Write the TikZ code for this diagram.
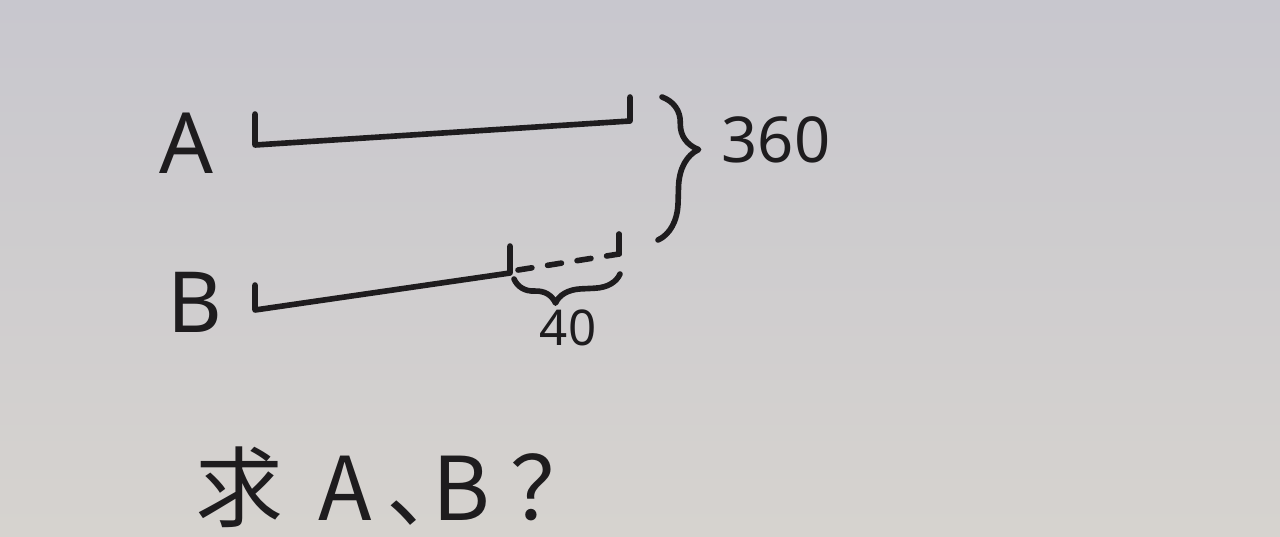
\documentclass[tikz,border=0pt]{standalone}
\usepackage{fontspec}
\setmainfont{Noto Sans}
\newfontfamily\cjk{Noto Sans CJK SC}
\usetikzlibrary{decorations.pathreplacing}
\definecolor{papertop}{RGB}{200,199,206}
\definecolor{paperbot}{RGB}{214,211,207}
\definecolor{ink}{RGB}{30,28,30}
\tikzset{
  seg/.style={ink, line width=1.6pt, line cap=round, line join=round},
  lab/.style={ink, inner sep=0pt, font=\fontsize{#1}{#1}\selectfont},
  brc/.style={seg, decorate, decoration={brace, amplitude=#1}},
}
\begin{document}
\begin{tikzpicture}[x=0.01cm,y=-0.01cm]
\shade[top color=papertop, bottom color=paperbot] (0,0) rectangle (1280,536);
\useasboundingbox (0,0) rectangle (1280,536);

\node[lab=24] (labelA) at (186,143) {A};
\node[lab=24] (labelB) at (195,302) {B};

\coordinate (a0) at (255,114); \coordinate (a1) at (255,145);
\coordinate (a2) at (630,121); \coordinate (a3) at (630,97);
\draw[seg] (a0)--(a1)--(a2)--(a3);

\coordinate (b0) at (255,285); \coordinate (b1) at (255,310);
\coordinate (b2) at (510,273); \coordinate (b3) at (510,246);
\draw[seg] (b0)--(b1)--(b2)--(b3);
\coordinate (c0) at (518,270); \coordinate (c1) at (619,254); \coordinate (c2) at (619,234);
\draw[seg, dash pattern=on 4pt off 4.5pt] (c0)--(c1);
\draw[seg] (c1)--(c2);

\draw[brc=0.38cm, decoration={aspect=0.36}] (662,97) -- (658,240);
\node[lab=18, anchor=west] (total) at (721,140) {360};

\draw[brc=0.26cm, decoration={mirror, aspect=0.38}] (514,279) -- (620,274);
\node[lab=14] (diff) at (568,328) {40};

\node[lab=25, anchor=base west] (question) at (195,520)
  {\cjk 求\hspace{10pt}A\hspace{4pt}、\hspace{-12pt}B\hspace{6pt}？};
\end{tikzpicture}
\end{document}
